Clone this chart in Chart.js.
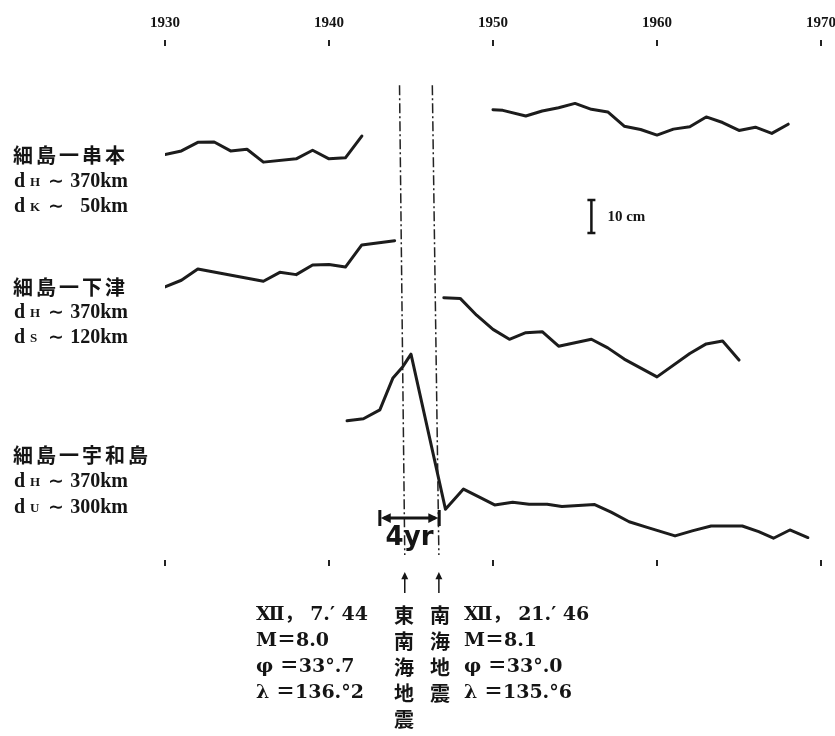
<!DOCTYPE html>
<html>
<head>
<meta charset="utf-8">
<script src="https://cdn.jsdelivr.net/npm/chart.js@4.4.1/dist/chart.umd.min.js"></script>
<style>
  html, body { margin: 0; padding: 0; background: #fff; }
  canvas { display: block; }
</style>
</head>
<body>
<canvas id="grafico" width="835" height="736"></canvas>
<script>
// 年 (x) と 相対水位 cm (y) ; null = 欠測
var kushimotoYears = [1930, 1931, 1932, 1933, 1934, 1935, 1936, 1938, 1939, 1940, 1941, 1942, 1946,
    1950, 1950.6, 1952, 1953, 1954, 1955, 1956, 1957, 1958, 1959, 1960, 1961, 1962, 1963, 1964, 1965, 1966, 1967, 1968];
var kushimotoCm = [122.9, 124.0, 126.6, 126.7, 124.0, 124.5, 120.6, 121.6, 124.2, 121.6, 121.9, 128.5, null,
    136.5, 136.3, 134.6, 136.1, 137.1, 138.4, 136.6, 135.8, 131.5, 130.5, 128.8, 130.6, 131.3, 134.3, 132.6, 130.2, 131.2, 129.3, 132.1];

var shimotsuYears = [1930, 1931, 1932, 1936, 1937, 1938, 1939, 1940, 1941, 1942, 1944, 1945.5,
    1947, 1948, 1949, 1950, 1951, 1952, 1953, 1954, 1956, 1957, 1958, 1960, 1962, 1963, 1964, 1965];
var shimotsuCm = [82.8, 84.8, 88.2, 84.5, 87.2, 86.5, 89.4, 89.6, 88.8, 95.5, 96.8, null,
    79.5, 79.3, 74.2, 69.9, 66.9, 68.9, 69.2, 64.8, 66.9, 64.3, 60.9, 55.5, 62.6, 65.5, 66.4, 60.6];

var uwajimaYears = [1941.1, 1942.1, 1943.1, 1943.9, 1944.5, 1945.0, 1947.1, 1948.2, 1949.2, 1950.1, 1951.2, 1952.2, 1953.3,
    1954.2, 1956.2, 1957.2, 1958.3, 1959.4, 1961.1, 1962.2, 1963.3, 1965.2, 1966.2, 1967.1, 1968.1, 1969.2];
var uwajimaCm = [42.2, 42.8, 45.5, 55.2, 58.6, 62.4, 15.4, 21.5, 19.0, 16.7, 17.5, 16.9, 16.9,
    16.2, 16.8, 14.5, 11.6, 9.9, 7.3, 8.9, 10.3, 10.3, 8.6, 6.6, 9.1, 6.8];

// 地震の線 (上端, 下端)
var tonankaiYears = [1944.3, 1944.62];
var nankaiYears = [1946.3, 1946.7];
var quakeLineCm = [143.9, 1.5];

var yearTicks = [1930, 1940, 1950, 1960, 1970];
var spanYears = [1943.1, 1946.72];
var spanCm = 12.7;
var scaleBarYear = 1956;
var scaleBarCm = [99.1, 109.1];

function puntos(xs, ys) {
    return xs.map(function (x, i) { return { x: x, y: ys[i] }; });
}

var estiloSerie = {
    borderColor: '#1c1c1c',
    borderWidth: 3,
    pointRadius: 0,
    tension: 0,
    fill: false,
    spanGaps: false,
    borderJoinStyle: 'round',
    borderCapStyle: 'round'
};
var estiloSismo = {
    borderColor: '#222',
    borderWidth: 1.5,
    borderDash: [10, 3, 2, 3],
    pointRadius: 0,
    fill: false
};

var SERIF = '"Liberation Serif", "DejaVu Serif", "Noto Sans CJK JP", serif';
var CJK = '"Noto Sans CJK JP", sans-serif';

function texto(ctx, s, x, y, font, align) {
    ctx.font = font;
    ctx.textAlign = align || 'left';
    ctx.fillText(s, x, y);
}

function titulo(ctx, s, x, y) {
    var chars = Array.from(s);
    ctx.font = 'bold 20px ' + CJK;
    ctx.textAlign = 'center';
    chars.forEach(function (c, i) { ctx.fillText(c, x + 10 + i * 23, y); });
}

function distancia(ctx, sub, valor, x, y) {
    texto(ctx, 'd', x, y, 'bold 20px ' + SERIF);
    texto(ctx, sub, x + 16, y + 1, 'bold 13px ' + SERIF);
    texto(ctx, '\u223C', x + 34, y, 'bold 19px "DejaVu Serif"');
    texto(ctx, valor, x + 114, y, 'bold 20px ' + SERIF, 'right');
}

function flecha(ctx, x1, y1, x2, y2, tam) {
    var ang = Math.atan2(y2 - y1, x2 - x1);
    ctx.beginPath();
    ctx.moveTo(x2, y2);
    ctx.lineTo(x2 - tam * Math.cos(ang - 0.45), y2 - tam * Math.sin(ang - 0.45));
    ctx.lineTo(x2 - tam * Math.cos(ang + 0.45), y2 - tam * Math.sin(ang + 0.45));
    ctx.closePath();
    ctx.fill();
}

var anotaciones = {
    id: 'anotaciones',
    afterDraw: function (chart) {
        var ctx = chart.ctx;
        var xs = chart.scales.x, ys = chart.scales.y;
        ctx.save();
        ctx.fillStyle = '#151515';
        ctx.strokeStyle = '#151515';
        ctx.textBaseline = 'middle';

        // etiquetas de las estaciones
        titulo(ctx, '細島一串本', 13, 155);
        distancia(ctx, 'H', '370km', 14, 182);
        distancia(ctx, 'K', '50km', 14, 207);
        titulo(ctx, '細島一下津', 13, 287);
        distancia(ctx, 'H', '370km', 14, 313);
        distancia(ctx, 'S', '120km', 14, 338);
        titulo(ctx, '細島一宇和島', 13, 455);
        distancia(ctx, 'H', '370km', 14, 482);
        distancia(ctx, 'U', '300km', 14, 508);

        // barra de escala 10 cm
        var bx = xs.getPixelForValue(scaleBarYear);
        var b0 = ys.getPixelForValue(scaleBarCm[0]), b1 = ys.getPixelForValue(scaleBarCm[1]);
        ctx.lineWidth = 2.5;
        ctx.beginPath();
        ctx.moveTo(bx, b0); ctx.lineTo(bx, b1);
        ctx.moveTo(bx - 4, b0); ctx.lineTo(bx + 4, b0);
        ctx.moveTo(bx - 4, b1); ctx.lineTo(bx + 4, b1);
        ctx.stroke();
        texto(ctx, '10 cm', bx + 16, (b0 + b1) / 2 + 1, 'bold 15px ' + SERIF);

        // flecha de 4 años
        var ax0 = xs.getPixelForValue(spanYears[0]), ax1 = xs.getPixelForValue(spanYears[1]);
        var ay = ys.getPixelForValue(spanCm);
        ctx.lineWidth = 3;
        ctx.beginPath();
        ctx.moveTo(ax0 + 4, ay); ctx.lineTo(ax1 - 4, ay);
        ctx.moveTo(ax0, ay - 8); ctx.lineTo(ax0, ay + 8);
        ctx.moveTo(ax1, ay - 8); ctx.lineTo(ax1, ay + 8);
        ctx.stroke();
        flecha(ctx, ax1 - 20, ay, ax0 + 1, ay, 11);
        flecha(ctx, ax0 + 20, ay, ax1 - 1, ay, 11);
        texto(ctx, '4yr', (ax0 + ax1) / 2, ay + 20, 'bold 26px "DejaVu Sans"', 'center');

        // flechitas hacia arriba bajo el eje
        [tonankaiYears[1], nankaiYears[1]].forEach(function (yr) {
            var px = xs.getPixelForValue(yr);
            ctx.lineWidth = 1.5;
            ctx.beginPath();
            ctx.moveTo(px, 593); ctx.lineTo(px, 578);
            ctx.stroke();
            flecha(ctx, px, 590, px, 572, 8);
        });

        // datos de los sismos
        var f = 'bold 19px "DejaVu Serif", "Noto Sans CJK JP", serif';
        var filas = [615, 641, 667, 693, 719];
        var izq = ['\u216B\uFF0C 7.\u2032 44', 'M\uFF1D8.0', '\u03C6 \uFF1D33\u00B0.7', '\u03BB \uFF1D136.\u00B02'];
        var der = ['\u216B\uFF0C 21.\u2032 46', 'M\uFF1D8.1', '\u03C6 \uFF1D33\u00B0.0', '\u03BB \uFF1D135.\u00B06'];
        var col2 = Array.from('東南海地震'), col3 = Array.from('南海地震');
        izq.forEach(function (s, i) { texto(ctx, s, 256, filas[i], f); });
        der.forEach(function (s, i) { texto(ctx, s, 464, filas[i], f); });
        col2.forEach(function (c, i) { texto(ctx, c, 404, filas[i], 'bold 20px ' + CJK, 'center'); });
        col3.forEach(function (c, i) { texto(ctx, c, 440, filas[i], 'bold 20px ' + CJK, 'center'); });

        ctx.restore();
    }
};

var ejeX = {
    type: 'linear',
    min: yearTicks[0],
    max: yearTicks[yearTicks.length - 1],
    border: { display: false },
    grid: { drawOnChartArea: false, drawTicks: true, tickLength: 6, lineWidth: 2, color: '#222' },
    afterBuildTicks: function (s) { s.ticks = yearTicks.map(function (v) { return { value: v }; }); }
};

new Chart(document.getElementById('grafico'), {
    type: 'line',
    data: {
        datasets: [
            Object.assign({ label: '細島一串本', data: puntos(kushimotoYears, kushimotoCm) }, estiloSerie),
            Object.assign({ label: '細島一下津', data: puntos(shimotsuYears, shimotsuCm) }, estiloSerie),
            Object.assign({ label: '細島一宇和島', data: puntos(uwajimaYears, uwajimaCm) }, estiloSerie),
            Object.assign({ label: '東南海地震', data: puntos(tonankaiYears, quakeLineCm) }, estiloSismo),
            Object.assign({ label: '南海地震', data: puntos(nankaiYears, quakeLineCm) }, estiloSismo)
        ]
    },
    options: {
        responsive: false,
        animation: false,
        layout: { padding: { left: 165, right: 14, top: 0, bottom: 0 } },
        plugins: { legend: { display: false }, tooltip: { enabled: false } },
        scales: {
            x: Object.assign({}, ejeX, {
                position: 'top',
                ticks: {
                    color: '#151515',
                    padding: 8,
                    maxRotation: 0,
                    font: { family: '"Liberation Serif"', size: 15, weight: 'bold' },
                    callback: function (v) { return String(v); }
                },
                afterFit: function (s) { s.height = 46; s.paddingLeft = 0; s.paddingRight = 0; }
            }),
            xb: Object.assign({}, ejeX, {
                position: 'bottom',
                ticks: { display: false },
                afterFit: function (s) { s.height = 176; s.paddingLeft = 0; s.paddingRight = 0; }
            }),
            y: { display: false, min: 0, max: 155.8 }
        }
    },
    plugins: [anotaciones]
});
</script>
</body>
</html>
